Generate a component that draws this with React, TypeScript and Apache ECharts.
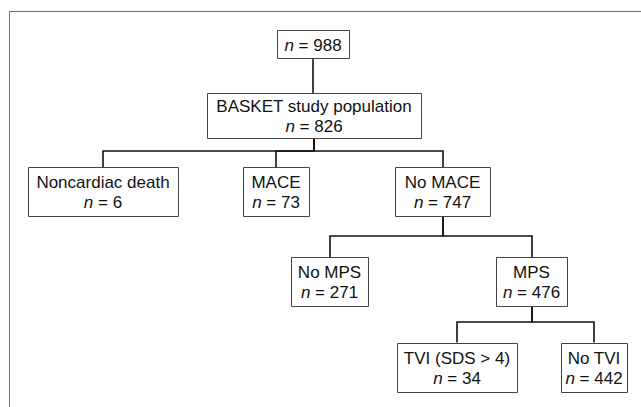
import React, { useEffect, useRef } from "react";
import * as echarts from "echarts";

// ---- data ----
const nodeLabels: string[] = [
  "",
  "BASKET study population",
  "Noncardiac death",
  "MACE",
  "No MACE",
  "No MPS",
  "MPS",
  "TVI (SDS > 4)",
  "No TVI",
];
const nodeCounts: number[] = [988, 826, 6, 73, 747, 271, 476, 34, 442];
const nodeParents: number[] = [-1, 0, 1, 1, 1, 4, 4, 6, 6];

// ---- layout (chart coordinates, separate from data) ----
const layoutCx: number[] = [313, 314, 103, 276, 442.5, 329.5, 531.5, 457, 594];
const layoutCy: number[] = [44, 115.5, 191.5, 191.5, 191.5, 281.5, 281.5, 367, 367];
const layoutW: number[] = [72, 214, 150, 66, 95, 77, 71, 120, 66];
const layoutH: number[] = [28, 45, 49, 49, 49, 49, 49, 49, 49];
const layoutBusY: number[] = [75, 151, -1, -1, 236, -1, 322, -1, -1];

const FONT = "'Liberation Sans', Arial, Helvetica, sans-serif";

export default function App() {
  const ref = useRef<HTMLDivElement>(null);
  useEffect(() => {
    if (!ref.current) return;
    const chart = echarts.init(ref.current, undefined, { renderer: "svg" });

    const nodeData = nodeLabels.map((_, i) => [layoutCx[i], layoutCy[i], layoutW[i], layoutH[i], i]);
    const edgeData: number[][] = [];
    nodeParents.forEach((p, i) => {
      if (p >= 0) edgeData.push([layoutCx[i], layoutCy[i], p, i]);
    });

    chart.setOption({
      animation: false,
      backgroundColor: "#ffffff",
      grid: { left: 0, right: 0, top: 0, bottom: 0 },
      xAxis: { type: "value", min: 0, max: 641, show: false },
      yAxis: { type: "value", min: 0, max: 407, inverse: true, show: false },
      graphic: [
        {
          type: "polyline",
          shape: { points: [[9.5, 407], [9.5, 11.5], [641, 11.5]] },
          style: { stroke: "#6a6a6a", lineWidth: 1, fill: "none" },
          silent: true,
        },
      ],
      series: [
        {
          type: "custom",
          coordinateSystem: "cartesian2d",
          data: edgeData,
          renderItem: (params: any, api: any) => {
            const p = api.value(2) as number;
            const c = api.value(3) as number;
            const pBottom = api.coord([layoutCx[p], layoutCy[p] + layoutH[p] / 2]);
            const bus = api.coord([layoutCx[c], layoutBusY[p]]);
            const cTop = api.coord([layoutCx[c], layoutCy[c] - layoutH[c] / 2]);
            const px = Math.round(pBottom[0]);
            const cx = Math.round(cTop[0]);
            const pts =
              nodeParents.filter((q) => q === p).length === 1
                ? [
                    [px, pBottom[1]],
                    [px, cTop[1]],
                  ]
                : [
                    [px, pBottom[1]],
                    [px, bus[1]],
                    [cx, bus[1]],
                    [cx, cTop[1]],
                  ];
            return {
              type: "polyline",
              shape: { points: pts },
              style: { stroke: "#111", lineWidth: 1.6, fill: "none" },
            };
          },
          z: 1,
        },
        {
          type: "custom",
          coordinateSystem: "cartesian2d",
          data: nodeData,
          renderItem: (params: any, api: any) => {
            const i = api.value(4) as number;
            const c = api.coord([api.value(0), api.value(1)]);
            const s = api.size([api.value(2), api.value(3)]);
            const label = nodeLabels[i];
            const txt = (label ? label + "\n" : "") + "{i|n} = " + nodeCounts[i];
            return {
              type: "group",
              children: [
                {
                  type: "rect",
                  shape: {
                    x: Math.round(c[0] - s[0] / 2) + 0.5,
                    y: Math.round(c[1] - s[1] / 2) + 0.5,
                    width: Math.round(s[0]),
                    height: Math.round(s[1]),
                  },
                  style: { fill: "#fff", stroke: "#444", lineWidth: 1 },
                },
                {
                  type: "text",
                  x: c[0],
                  y: c[1] + 1,
                  style: {
                    text: txt,
                    fill: "#111",
                    fontSize: 17,
                    fontFamily: FONT,
                    align: "center",
                    verticalAlign: "middle",
                    lineHeight: 20,
                    rich: {
                      i: { fontStyle: "italic", fontSize: 17, fontFamily: FONT, lineHeight: 20, fill: "#111" },
                    },
                  },
                },
              ],
            };
          },
          z: 2,
        },
      ],
    });
    return () => chart.dispose();
  }, []);
  return (
    <div
      ref={ref}
      style={{ position: "fixed", left: 0, top: 0, width: 641, height: 407, background: "#fff" }}
    />
  );
}
